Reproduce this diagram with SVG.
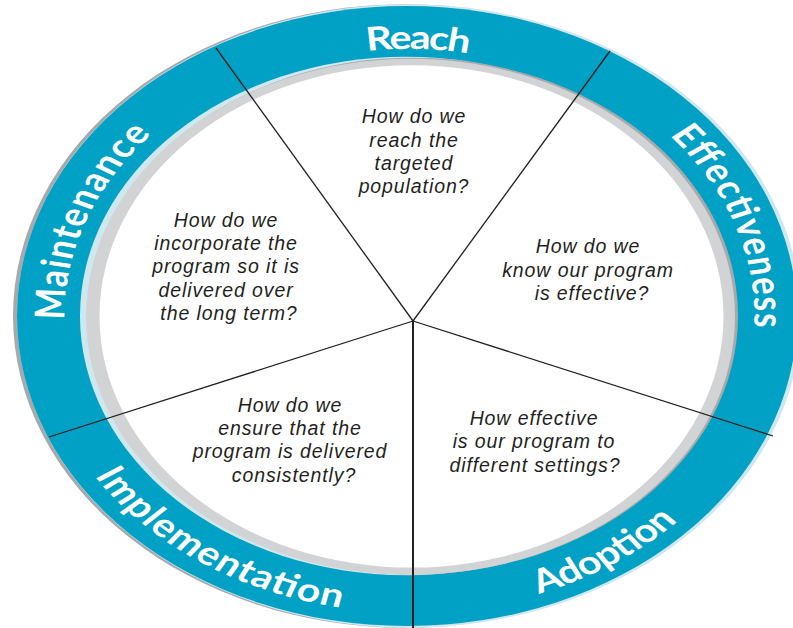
<svg xmlns="http://www.w3.org/2000/svg" width="793" height="628" viewBox="0 0 793 628">
<style>
.lbl{font-family:Lato,"Open Sans","DejaVu Sans",sans-serif;font-weight:700;font-size:41px;fill:#fff}
.q{font-family:"Liberation Sans",Arial,sans-serif;font-style:italic;font-size:19.5px;fill:#231f20;text-anchor:middle;letter-spacing:0.9px}
.ln{stroke:#231f20;stroke-width:1.3;fill:none}
</style>
<defs>
<path id="pMaint" d="M143.1 534.8 A344 344 0 0 1 351.7 -23.3"/>
<path id="pReach" d="M122.3 139.9 A336 336 0 0 1 704.0 156.2"/>
<path id="pEff" d="M472.4 -24.0 A346 346 0 0 1 671.0 541.3"/>
<path id="pAdop" d="M241.2 649.4 A373 373 0 0 0 780.9 294.2"/>
<path id="pImpl" d="M36.4 290.6 A373 373 0 0 0 572.6 651.0"/>
</defs>
<rect width="793" height="628" fill="#fff"/>
<g id="ring" transform="matrix(1 0 0 0.795 0 64.78)">
<circle cx="405" cy="316" r="392" fill="#a7a9ac"/>
<circle cx="409" cy="316" r="392" fill="#cfe8f0"/>
<circle cx="407" cy="316" r="390" fill="#00a1c4"/>
<circle cx="406" cy="316" r="326" fill="#cfe8f0"/>
<circle cx="413" cy="316" r="325" fill="#a7a9ac"/>
<circle cx="410.5" cy="317" r="324.5" fill="#d1d3d4"/>
<ellipse cx="411.5" cy="316.5" rx="312" ry="316" fill="#fff"/>
</g>
<g id="connectors">
<line class="ln" x1="413" y1="321" x2="216" y2="48"/>
<line class="ln" x1="413" y1="321" x2="610" y2="51"/>
<line class="ln" x1="413" y1="321" x2="773" y2="436"/>
<line class="ln" x1="413" y1="321" x2="49" y2="437"/>
<line class="ln" x1="413" y1="321" x2="413" y2="628" style="stroke-width:2"/>
</g>
<g id="reach">
<g transform="matrix(1 0 0 0.795 0 64.78)"><text class="lbl"><textPath href="#pReach" startOffset="50%" text-anchor="middle" textLength="102" lengthAdjust="spacing">Reach</textPath></text></g>
<text class="q"><tspan x="414" y="123.3">How do we</tspan><tspan x="414" y="146.7">reach the</tspan><tspan x="414" y="170">targeted</tspan><tspan x="414" y="193.3">population?</tspan></text>
</g>
<g id="effectiveness">
<g transform="matrix(1 0 0 0.795 0 64.78)"><text class="lbl"><textPath href="#pEff" startOffset="50%" text-anchor="middle" textLength="262" lengthAdjust="spacing">Effectiveness</textPath></text></g>
<text class="q"><tspan x="588" y="253.3">How do we</tspan><tspan x="588" y="276.7">know our program</tspan><tspan x="592" y="300">is effective?</tspan></text>
</g>
<g id="adoption">
<g transform="matrix(1 0 0 0.795 0 64.78)"><text class="lbl"><textPath href="#pAdop" startOffset="50%" text-anchor="middle" textLength="168" lengthAdjust="spacing">Adoption</textPath></text></g>
<text class="q"><tspan x="534" y="425">How effective</tspan><tspan x="534" y="448.3">is our program to</tspan><tspan x="535" y="471.7">different settings?</tspan></text>
</g>
<g id="implementation">
<g transform="matrix(1 0 0 0.795 0 64.78)"><text class="lbl"><textPath href="#pImpl" startOffset="50%" text-anchor="middle" textLength="305" lengthAdjust="spacing">Implementation</textPath></text></g>
<text class="q"><tspan x="290" y="411.7">How do we</tspan><tspan x="290" y="435">ensure that the</tspan><tspan x="290" y="458.3">program is delivered</tspan><tspan x="294" y="481.7">consistently?</tspan></text>
</g>
<g id="maintenance">
<g transform="matrix(1 0 0 0.795 0 64.78)"><text class="lbl"><textPath href="#pMaint" startOffset="50%" text-anchor="middle" textLength="255" lengthAdjust="spacing">Maintenance</textPath></text></g>
<text class="q"><tspan x="226" y="226.7">How do we</tspan><tspan x="226" y="250">incorporate the</tspan><tspan x="226" y="273.3">program so it is</tspan><tspan x="226" y="296.7">delivered over</tspan><tspan x="229" y="320">the long term?</tspan></text>
</g>
</svg>
